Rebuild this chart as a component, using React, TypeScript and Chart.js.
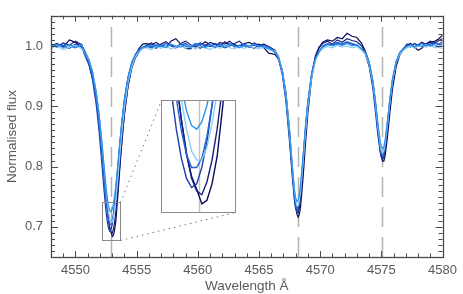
import React, { useEffect, useRef } from 'react';
import { Chart, registerables } from 'chart.js';
Chart.register(...registerables);

// ---------------- data ----------------
const wavelength = [
  4548.0, 4548.5, 4549.0, 4549.5, 4550.0, 4550.5,
  4550.8, 4551.1, 4551.4, 4551.7, 4551.9, 4552.0, 4552.1, 4552.2, 4552.3, 4552.4, 4552.5, 4552.6, 4552.7, 4552.8, 4552.9,
  4553.0, 4553.1, 4553.2, 4553.3, 4553.4, 4553.5, 4553.6, 4553.7, 4553.8, 4554.0, 4554.3, 4554.6, 4554.9, 4555.2, 4555.5,
  4555.8, 4556.2, 4556.6, 4557.0, 4557.4, 4557.8, 4558.2, 4558.6, 4559.0, 4559.4, 4559.8, 4560.2, 4560.6, 4561.0, 4561.4,
  4561.8, 4562.2, 4562.6, 4563.0, 4563.4, 4563.8, 4564.2, 4564.6, 4565.0, 4565.4, 4565.8,
  4566.3, 4566.6, 4566.9, 4567.2, 4567.5, 4567.7, 4567.9, 4568.0, 4568.1, 4568.2, 4568.3, 4568.4, 4568.6, 4568.8, 4569.0,
  4569.3, 4569.6, 4569.9,
  4570.2, 4570.6, 4571.0, 4571.4, 4571.8, 4572.2, 4572.6, 4573.0,
  4573.4, 4573.7, 4574.0, 4574.3, 4574.5, 4574.7, 4574.9, 4575.0, 4575.1, 4575.2, 4575.3, 4575.5, 4575.7, 4575.9, 4576.2,
  4576.5, 4576.8,
  4577.1, 4577.4, 4577.7, 4578.0, 4578.3, 4578.6, 4579.0, 4579.4, 4579.7, 4580.0,
];

const fluxA = [
  1.000, 1.004, 0.998, 1.010, 1.006, 0.998,
  0.985, 0.970, 0.948, 0.915, 0.885, 0.866, 0.845, 0.822, 0.799, 0.775, 0.752, 0.730, 0.712, 0.699, 0.692,
  0.684, 0.686, 0.695, 0.710, 0.735, 0.762, 0.790, 0.817, 0.842, 0.888, 0.935, 0.966, 0.985, 0.996, 1.003,
  1.004, 1.002, 1.006, 1.000, 0.998, 1.008, 1.012, 1.003, 0.996, 0.995, 1.004, 1.001, 1.007, 1.002, 0.998,
  1.006, 1.003, 1.008, 1.001, 0.999, 1.004, 1.006, 1.001, 1.003, 0.997, 0.988,
  0.986, 0.978, 0.960, 0.923, 0.860, 0.806, 0.753, 0.734, 0.721, 0.716, 0.721, 0.734, 0.781, 0.838, 0.890,
  0.946, 0.979, 0.996,
  1.006, 1.010, 1.008, 1.014, 1.012, 1.021, 1.016, 1.014,
  1.004, 0.991, 0.973, 0.942, 0.910, 0.870, 0.831, 0.817, 0.809, 0.809, 0.817, 0.849, 0.890, 0.927, 0.965,
  0.985, 0.994,
  1.002, 1.004, 0.998, 0.993, 0.996, 1.003, 1.006, 1.008, 1.012, 1.018,
];

const fluxB = [
  1.003, 0.999, 1.005, 1.001, 1.008, 1.002,
  0.990, 0.977, 0.956, 0.922, 0.890, 0.870, 0.849, 0.826, 0.801, 0.776, 0.752, 0.730, 0.711, 0.698, 0.691,
  0.689, 0.696, 0.708, 0.725, 0.747, 0.771, 0.796, 0.821, 0.844, 0.886, 0.933, 0.963, 0.980, 0.990, 0.997,
  1.001, 1.005, 0.999, 1.003, 1.007, 1.000, 0.997, 1.004, 1.008, 1.002, 0.998, 1.005, 1.000, 1.006, 1.003,
  0.999, 1.007, 1.002, 1.004, 1.008, 1.000, 0.998, 1.005, 1.001, 1.003, 0.999,
  0.993, 0.982, 0.959, 0.917, 0.851, 0.797, 0.748, 0.732, 0.723, 0.723, 0.732, 0.749, 0.799, 0.855, 0.903,
  0.954, 0.983, 0.998,
  1.004, 1.008, 1.003, 1.010, 1.006, 1.012, 1.009, 1.007,
  1.000, 0.988, 0.970, 0.937, 0.903, 0.862, 0.827, 0.816, 0.812, 0.816, 0.827, 0.862, 0.903, 0.937, 0.970,
  0.987, 0.995,
  1.003, 0.999, 1.004, 1.001, 1.006, 1.003, 1.008, 1.005, 1.009, 1.012,
];

const fluxC = [
  0.997, 1.002, 1.000, 0.996, 1.003, 0.999,
  0.983, 0.969, 0.943, 0.902, 0.864, 0.842, 0.818, 0.794, 0.769, 0.746, 0.725, 0.709, 0.698, 0.693, 0.695,
  0.704, 0.718, 0.738, 0.760, 0.784, 0.808, 0.833, 0.855, 0.876, 0.912, 0.949, 0.973, 0.986, 0.993, 0.998,
  0.998, 1.000, 0.996, 1.002, 0.999, 1.003, 0.997, 1.001, 1.004, 0.998, 1.000, 0.996, 1.002, 0.999, 1.004,
  1.001, 0.997, 1.000, 1.003, 0.998, 1.002, 0.999, 0.996, 1.001, 0.998, 0.995,
  0.990, 0.978, 0.953, 0.908, 0.839, 0.787, 0.743, 0.730, 0.726, 0.730, 0.743, 0.762, 0.813, 0.865, 0.908,
  0.953, 0.978, 0.990,
  0.999, 1.003, 1.001, 1.005, 1.002, 1.006, 1.003, 1.001,
  0.994, 0.986, 0.966, 0.930, 0.894, 0.855, 0.824, 0.816, 0.816, 0.824, 0.837, 0.875, 0.913, 0.944, 0.974,
  0.989, 0.996,
  1.000, 1.003, 0.998, 1.002, 1.005, 0.999, 1.003, 1.006, 1.002, 1.004,
];

const fluxD = [
  1.002, 0.998, 1.004, 1.000, 0.997, 1.003,
  0.985, 0.972, 0.949, 0.911, 0.876, 0.856, 0.833, 0.810, 0.786, 0.763, 0.742, 0.724, 0.711, 0.704, 0.704,
  0.709, 0.721, 0.738, 0.759, 0.781, 0.805, 0.829, 0.851, 0.872, 0.908, 0.947, 0.971, 0.985, 0.993, 0.997,
  1.000, 0.997, 1.002, 0.999, 1.004, 1.001, 0.998, 1.003, 1.000, 0.996, 1.002, 1.005, 0.999, 1.001, 0.997,
  1.003, 1.000, 1.004, 0.998, 1.001, 1.003, 0.999, 1.002, 0.998, 1.001, 0.997,
  0.991, 0.979, 0.955, 0.913, 0.847, 0.795, 0.750, 0.736, 0.730, 0.733, 0.744, 0.761, 0.811, 0.862, 0.906,
  0.951, 0.977, 0.989,
  1.000, 1.004, 1.002, 1.006, 1.003, 1.007, 1.004, 1.002,
  0.995, 0.988, 0.971, 0.939, 0.906, 0.867, 0.832, 0.822, 0.818, 0.822, 0.832, 0.867, 0.906, 0.939, 0.971,
  0.988, 0.995,
  1.001, 0.998, 1.003, 1.000, 1.004, 1.002, 1.000, 1.005, 1.003, 1.008,
];

const fluxE = [
  0.996, 1.000, 0.994, 0.998, 1.001, 0.995,
  0.988, 0.977, 0.957, 0.924, 0.893, 0.874, 0.853, 0.831, 0.808, 0.784, 0.762, 0.741, 0.725, 0.713, 0.708,
  0.708, 0.715, 0.728, 0.745, 0.766, 0.789, 0.812, 0.836, 0.858, 0.896, 0.939, 0.966, 0.982, 0.991, 0.996,
  0.997, 0.994, 0.999, 0.996, 1.000, 0.995, 0.998, 1.001, 0.996, 0.999, 0.995, 1.000, 0.997, 0.994, 0.999,
  0.996, 1.001, 0.997, 0.995, 0.999, 0.996, 1.000, 0.997, 0.995, 0.998, 0.994,
  0.992, 0.981, 0.959, 0.920, 0.857, 0.806, 0.759, 0.744, 0.735, 0.735, 0.744, 0.759, 0.806, 0.857, 0.901,
  0.948, 0.975, 0.989,
  0.996, 0.999, 0.997, 1.001, 0.998, 1.000, 0.997, 0.999,
  0.993, 0.986, 0.970, 0.940, 0.908, 0.870, 0.836, 0.826, 0.822, 0.826, 0.836, 0.870, 0.908, 0.940, 0.972,
  0.986, 0.993,
  0.997, 1.000, 0.996, 0.999, 1.002, 0.998, 1.001, 0.997, 0.999, 0.995,
];

const fluxF = [
  0.999, 1.003, 0.997, 1.002, 0.998, 1.001,
  0.987, 0.976, 0.956, 0.922, 0.891, 0.872, 0.852, 0.831, 0.809, 0.787, 0.767, 0.749, 0.735, 0.727, 0.725,
  0.729, 0.738, 0.752, 0.770, 0.791, 0.813, 0.835, 0.856, 0.876, 0.911, 0.948, 0.972, 0.985, 0.993, 0.997,
  0.999, 1.002, 0.998, 1.001, 0.997, 1.003, 1.000, 0.998, 1.002, 0.999, 1.004, 1.000, 0.997, 1.002, 0.999,
  1.001, 0.998, 1.003, 1.000, 0.997, 1.001, 0.999, 1.003, 1.000, 0.998, 0.996,
  0.991, 0.980, 0.957, 0.917, 0.854, 0.804, 0.761, 0.748, 0.742, 0.745, 0.755, 0.772, 0.819, 0.868, 0.910,
  0.953, 0.978, 0.990,
  0.998, 1.002, 1.000, 1.003, 1.001, 1.004, 1.000, 1.002,
  0.995, 0.989, 0.973, 0.943, 0.912, 0.875, 0.843, 0.833, 0.830, 0.833, 0.843, 0.875, 0.912, 0.943, 0.973,
  0.989, 0.995,
  0.999, 1.002, 0.998, 1.001, 0.999, 1.003, 1.000, 1.002, 0.998, 1.001,
];

const seriesList = [fluxA, fluxB, fluxC, fluxD, fluxE, fluxF];
const seriesNames = ['epoch 1', 'epoch 2', 'epoch 3', 'epoch 4', 'epoch 5', 'epoch 6'];
const seriesColors = ['#0c0c58', '#17207e', '#1d3ca6', '#2064d8', '#8ccdf7', '#2b96ec'];

const markerLines = [4552.94, 4568.22, 4575.07];
const xTicks = [4550, 4555, 4560, 4565, 4570, 4575, 4580];
const yTicks = [0.7, 0.8, 0.9, 1.0];
const xRange = [4548, 4580];
const yRange = [0.65, 1.05];
const zoomX = [4552.2, 4553.67];
const zoomY = [0.679, 0.741];

// layout (pixels)
const W = 463;
const H = 294;
const INSET = { left: 161, top: 100, width: 75, height: 113 };
const FONT = "'Liberation Sans', Arial, Helvetica, sans-serif";
const AXIS_COLOR = '#4a4a4a';
const TEXT_COLOR = '#5a5a5a';

function makeDatasets(width: number) {
  return seriesList.map((flux, i) => ({
    label: seriesNames[i],
    data: wavelength.map((w, k) => ({ x: w, y: flux[k] })),
    borderColor: seriesColors[i],
    backgroundColor: seriesColors[i],
    borderWidth: width,
    pointRadius: 0,
    fill: false,
    tension: 0,
    order: seriesList.length - i,
  }));
}

const mainPlugin = {
  id: 'mainDecor',
  beforeDatasetsDraw(chart: any) {
    const { ctx, chartArea: a, scales } = chart;
    const x = scales.x;
    ctx.save();
    ctx.strokeStyle = '#b5b5b5';
    ctx.lineWidth = 1.5;
    ctx.setLineDash([20, 10]);
    markerLines.forEach((w) => {
      const px = Math.round(x.getPixelForValue(w)) + 0.5;
      ctx.beginPath();
      ctx.moveTo(px, a.bottom);
      ctx.lineTo(px, a.top);
      ctx.stroke();
    });
    ctx.restore();
  },
  afterDatasetsDraw(chart: any) {
    const { ctx, chartArea: a, scales } = chart;
    const x = scales.x;
    const y = scales.y;
    ctx.save();
    // zoom box
    const bx0 = Math.round(x.getPixelForValue(zoomX[0])) + 0.5;
    const bx1 = Math.round(x.getPixelForValue(zoomX[1])) + 0.5;
    const by0 = Math.round(y.getPixelForValue(zoomY[1])) + 0.5;
    const by1 = Math.round(y.getPixelForValue(zoomY[0])) + 0.5;
    ctx.strokeStyle = '#8a8a8a';
    ctx.lineWidth = 1;
    ctx.strokeRect(bx0, by0, bx1 - bx0, by1 - by0);
    // connectors
    ctx.setLineDash([1.5, 4]);
    ctx.strokeStyle = '#777';
    ctx.beginPath();
    ctx.moveTo(bx1, by0);
    ctx.lineTo(INSET.left + 0.5, INSET.top + 0.5);
    ctx.moveTo(bx1, by1);
    ctx.lineTo(INSET.left + INSET.width - 0.5, INSET.top + INSET.height - 0.5);
    ctx.stroke();
    ctx.setLineDash([]);

    // ticks
    ctx.strokeStyle = AXIS_COLOR;
    ctx.lineWidth = 1;
    ctx.beginPath();
    for (let v = xRange[0]; v <= xRange[1]; v++) {
      const px = Math.round(x.getPixelForValue(v)) + 0.5;
      const len = v % 5 === 0 ? 6 : 3.5;
      ctx.moveTo(px, a.bottom);
      ctx.lineTo(px, a.bottom - len);
      ctx.moveTo(px, a.top);
      ctx.lineTo(px, a.top + len);
    }
    for (let i = 65; i <= 105; i++) {
      const py = Math.round(y.getPixelForValue(i / 100)) + 0.5;
      const len = i % 10 === 0 ? 7 : 4;
      ctx.moveTo(a.left, py);
      ctx.lineTo(a.left + len, py);
      ctx.moveTo(a.right, py);
      ctx.lineTo(a.right - len, py);
    }
    ctx.stroke();
    // frame
    ctx.lineWidth = 1.3;
    ctx.strokeRect(Math.round(a.left) + 0.5, Math.round(a.top) + 0.5, Math.round(a.width), Math.round(a.height));
    ctx.restore();
  },
};

const insetPlugin = {
  id: 'insetDecor',
  beforeDraw(chart: any) {
    const { ctx, width, height } = chart;
    ctx.save();
    ctx.fillStyle = '#ffffff';
    ctx.fillRect(0, 0, width, height);
    ctx.restore();
  },
  beforeDatasetsDraw(chart: any) {
    const { ctx, chartArea: a, scales } = chart;
    const px = Math.round(scales.x.getPixelForValue(markerLines[0])) + 0.5;
    ctx.save();
    ctx.strokeStyle = '#c4c4c4';
    ctx.lineWidth = 1.5;
    ctx.beginPath();
    ctx.moveTo(px, a.top);
    ctx.lineTo(px, a.bottom);
    ctx.stroke();
    ctx.restore();
  },
  afterDraw(chart: any) {
    const { ctx, width, height } = chart;
    ctx.save();
    ctx.strokeStyle = '#8a8a8a';
    ctx.lineWidth = 1;
    ctx.strokeRect(0.5, 0.5, width - 1, height - 1);
    ctx.restore();
  },
};

export default function App() {
  const mainRef = useRef<HTMLCanvasElement>(null);
  const insetRef = useRef<HTMLCanvasElement>(null);

  useEffect(() => {
    Chart.defaults.font.family = FONT;
    const main = new Chart(mainRef.current as HTMLCanvasElement, {
      type: 'line',
      data: { datasets: makeDatasets(1.2) as any },
      options: {
        animation: false,
        responsive: false,
        devicePixelRatio: 1,
        events: [],
        layout: { padding: { left: 0, right: 18, top: 7, bottom: 0 } },
        plugins: { legend: { display: false }, tooltip: { enabled: false } },
        scales: {
          x: {
            type: 'linear',
            min: xRange[0],
            max: xRange[1],
            afterBuildTicks: (s: any) => {
              s.ticks = xTicks.map((v) => ({ value: v }));
            },
            afterFit: (s: any) => {
              s.height = 37;
            },
            grid: { display: false, drawTicks: false },
            border: { display: false },
            ticks: {
              padding: 6,
              color: TEXT_COLOR,
              font: { size: 13, family: FONT },
              maxRotation: 0,
              autoSkip: false,
              callback: (v: any) => String(v),
            },
            title: {
              display: true,
              text: 'Wavelength Å',
              color: TEXT_COLOR,
              font: { size: 13.5, family: FONT },
              padding: { top: 0, bottom: 0 },
            },
          },
          y: {
            type: 'linear',
            min: yRange[0],
            max: yRange[1],
            afterBuildTicks: (s: any) => {
              s.ticks = yTicks.map((v) => ({ value: v }));
            },
            afterFit: (s: any) => {
              s.width = 51;
            },
            grid: { display: false, drawTicks: false },
            border: { display: false },
            ticks: {
              padding: 8,
              color: TEXT_COLOR,
              font: { size: 13, family: FONT },
              autoSkip: false,
              callback: (v: any) => Number(v).toFixed(1),
            },
            title: {
              display: true,
              text: 'Normalised flux',
              color: TEXT_COLOR,
              font: { size: 13.5, family: FONT },
              padding: { top: 4, bottom: 0 },
            },
          },
        },
      } as any,
      plugins: [mainPlugin],
    });

    const inset = new Chart(insetRef.current as HTMLCanvasElement, {
      type: 'line',
      data: { datasets: makeDatasets(1.4) as any },
      options: {
        animation: false,
        responsive: false,
        devicePixelRatio: 1,
        events: [],
        layout: { padding: 0 },
        plugins: { legend: { display: false }, tooltip: { enabled: false } },
        scales: {
          x: { type: 'linear', min: zoomX[0], max: zoomX[1], display: false },
          y: { type: 'linear', min: zoomY[0], max: zoomY[1], display: false },
        },
      } as any,
      plugins: [insetPlugin],
    });

    return () => {
      main.destroy();
      inset.destroy();
    };
  }, []);

  return (
    <div style={{ position: 'fixed', left: 0, top: 0, width: W, height: H, background: '#fff' }}>
      <canvas ref={mainRef} width={W} height={H} style={{ position: 'absolute', left: 0, top: 0 }} />
      <canvas
        ref={insetRef}
        width={INSET.width}
        height={INSET.height}
        style={{ position: 'absolute', left: INSET.left, top: INSET.top }}
      />
    </div>
  );
}
